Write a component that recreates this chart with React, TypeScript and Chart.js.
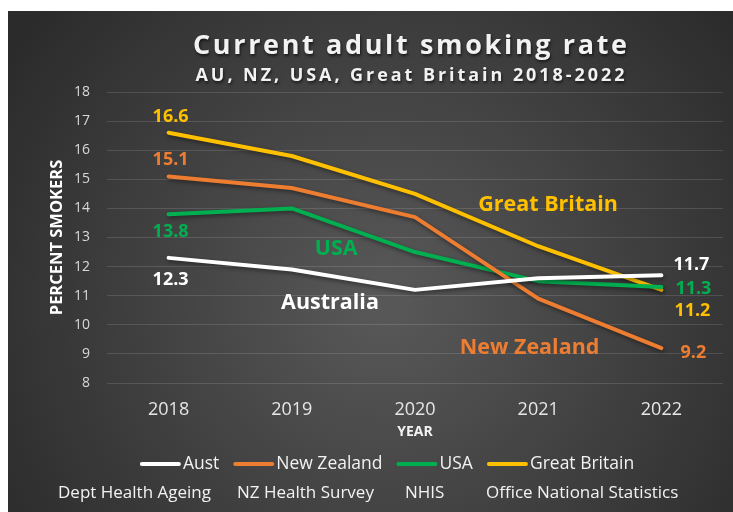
import React, { useEffect, useRef } from "react";
import { Chart, registerables } from "chart.js";

Chart.register(...registerables);

// ---- data ----
const years = ["2018", "2019", "2020", "2021", "2022"];
const seriesNames = ["Aust", "New Zealand", "USA", "Great Britain"];
const aust = [12.3, 11.9, 11.2, 11.6, 11.7];
const newZealand = [15.1, 14.7, 13.7, 10.9, 9.2];
const usa = [13.8, 14.0, 12.5, 11.5, 11.3];
const greatBritain = [16.6, 15.8, 14.5, 12.7, 11.2];
const yMin = 8;
const yMax = 18;
const yStep = 1;
const titleText = "Current adult smoking rate";
const subtitleText = "AU, NZ, USA, Great Britain 2018-2022";
const yAxisTitle = "PERCENT SMOKERS";
const xAxisTitle = "YEAR";
const seriesCallouts = ["Australia", "New Zealand", "USA", "Great Britain"];
const sources = ["Dept Health Ageing", "NZ Health Survey", "NHIS", "Office National Statistics"];

// ---- styles ----
const colors = ["#ffffff", "#ed7d31", "#00b050", "#ffc000"];
const FONT = "'Open Sans', 'Noto Sans', sans-serif";

// callout anchors in data space: [category index, value]
const calloutAnchors: [number, number][] = [
  [1.31, 10.75],
  [2.93, 9.2],
  [1.36, 12.6],
  [3.08, 14.12],
];
// value-label offsets in px: first point, last point
const firstOffsets: [number, number][] = [[2, 22], [2, -17], [2, 18], [2, -16]];
const lastOffsets: [number, number][] = [[30, -10], [32, 5], [32, 2], [31, 21]];
const sourceX = [50, 229, 397, 478];

function spacedText(ctx: CanvasRenderingContext2D, text: string, cx: number, y: number, target: number) {
  (ctx as any).letterSpacing = "0px";
  const w0 = ctx.measureText(text).width;
  const sp = Math.max(0, (target - w0) / (text.length - 1));
  (ctx as any).letterSpacing = sp + "px";
  ctx.textAlign = "left";
  ctx.fillText(text, cx - target / 2, y);
  (ctx as any).letterSpacing = "0px";
}

const decorPlugin = {
  id: "decor",
  beforeDraw(chart: any) {
    const { ctx, width, height } = chart;
    ctx.save();
    const g = ctx.createRadialGradient(width * 0.52, height * 0.58, 20, width * 0.52, height * 0.58, width * 0.62);
    g.addColorStop(0, "#575757");
    g.addColorStop(1, "#2b2b2b");
    ctx.fillStyle = g;
    ctx.fillRect(0, 0, width, height);
    ctx.restore();
  },
  beforeDatasetsDraw(chart: any) {
    const ctx = chart.ctx;
    ctx.save();
    ctx.shadowColor = "rgba(0,0,0,0.45)";
    ctx.shadowBlur = 4;
    ctx.shadowOffsetX = 1;
    ctx.shadowOffsetY = 2;
  },
  afterDatasetsDraw(chart: any) {
    chart.ctx.restore();
  },
  afterDraw(chart: any) {
    const { ctx, scales } = chart;
    const xs = scales.x;
    const ys = scales.y;
    ctx.save();
    ctx.textBaseline = "middle";

    // titles
    ctx.shadowColor = "rgba(0,0,0,0.6)";
    ctx.shadowBlur = 3;
    ctx.shadowOffsetX = 1;
    ctx.shadowOffsetY = 2;
    ctx.fillStyle = "#f2f2f2";
    ctx.font = `bold 27px ${FONT}`;
    spacedText(ctx, titleText, 402, 46 - 11, 434);
    ctx.font = `bold 18px ${FONT}`;
    spacedText(ctx, subtitleText, 402, 76 - 11, 429);
    ctx.shadowColor = "transparent";

    // value labels and callouts
    const step = xs.getPixelForValue(1) - xs.getPixelForValue(0);
    chart.data.datasets.forEach((ds: any, i: number) => {
      const data = ds.data as number[];
      const last = data.length - 1;
      ctx.fillStyle = colors[i];
      ctx.textAlign = "center";
      ctx.font = `bold 18px ${FONT}`;
      const x0 = xs.getPixelForValue(0);
      const y0 = ys.getPixelForValue(data[0]);
      ctx.fillText(data[0].toFixed(1), x0 + firstOffsets[i][0], y0 + firstOffsets[i][1]);
      const xl = xs.getPixelForValue(last);
      const yl = ys.getPixelForValue(data[last]);
      ctx.fillText(data[last].toFixed(1), xl + lastOffsets[i][0], yl + lastOffsets[i][1]);
      ctx.font = `bold 21.5px ${FONT}`;
      const [ci, cv] = calloutAnchors[i];
      ctx.fillText(seriesCallouts[i], x0 + ci * step, ys.getPixelForValue(cv));
    });

    // legend
    ctx.font = `17.5px ${FONT}`;
    ctx.textAlign = "left";
    const sw = 41;
    const gap = 2;
    const itemGap = 14;
    const widths = chart.data.datasets.map((ds: any) => sw + gap + ctx.measureText(ds.label).width);
    const total = widths.reduce((a: number, b: number) => a + b, 0) + itemGap * (widths.length - 1);
    let lx = 379 - total / 2;
    const ly = 464 - 11;
    chart.data.datasets.forEach((ds: any, i: number) => {
      ctx.strokeStyle = colors[i];
      ctx.lineWidth = 4;
      ctx.lineCap = "round";
      ctx.beginPath();
      ctx.moveTo(lx + 2, ly);
      ctx.lineTo(lx + sw - 2, ly);
      ctx.stroke();
      ctx.fillStyle = "#f2f2f2";
      ctx.fillText(ds.label, lx + sw + gap, ly);
      lx += widths[i] + itemGap;
    });

    // sources
    ctx.fillStyle = "#f2f2f2";
    ctx.font = `17px ${FONT}`;
    sources.forEach((s, i) => ctx.fillText(s, sourceX[i], 493 - 11));
    ctx.restore();
  },
};

export default function App() {
  const ref = useRef<HTMLCanvasElement | null>(null);
  useEffect(() => {
    if (!ref.current) return;
    const series = [aust, newZealand, usa, greatBritain];
    const chart = new Chart(ref.current, {
      type: "line",
      data: {
        labels: years,
        datasets: series.map((d, i) => ({
          label: seriesNames[i],
          data: d,
          borderColor: colors[i],
          backgroundColor: colors[i],
          borderWidth: 4,
          pointRadius: 0,
          pointHoverRadius: 0,
          tension: 0,
          borderCapStyle: "round" as const,
          borderJoinStyle: "round" as const,
        })),
      },
      options: {
        animation: false,
        responsive: true,
        maintainAspectRatio: false,
        layout: { padding: { top: 81, right: 10, bottom: 69, left: 0 } },
        plugins: {
          legend: { display: false },
          title: { display: false },
          tooltip: { enabled: false },
        },
        scales: {
          x: {
            offset: true,
            grid: { display: false, drawTicks: false },
            border: { display: false },
            ticks: { color: "#e6e6e6", font: { family: FONT, size: 18 }, padding: 16, maxRotation: 0 },
            title: {
              display: true,
              text: xAxisTitle,
              color: "#f2f2f2",
              font: { family: FONT, size: 14, weight: "bold" },
              padding: { top: 0, bottom: 3 },
            },
            afterFit: (s: any) => {
              s.height = 60;
            },
          },
          y: {
            min: yMin,
            max: yMax,
            ticks: { stepSize: yStep, color: "#d9d9d9", font: { family: FONT, size: 14 }, padding: 17 },
            grid: { color: "rgba(255,255,255,0.13)", lineWidth: 1, drawTicks: false },
            border: { display: false },
            title: {
              display: true,
              text: yAxisTitle,
              color: "#ffffff",
              font: { family: FONT, size: 16.5, weight: "bold" },
              padding: { top: 39, bottom: 0 },
            },
            afterFit: (s: any) => {
              s.width = 99;
            },
          },
        },
      },
      plugins: [decorPlugin],
    });
    return () => chart.destroy();
  }, []);
  return (
    <div style={{ position: "fixed", left: 8, top: 11, width: 725, height: 501 }}>
      <canvas ref={ref} />
    </div>
  );
}
